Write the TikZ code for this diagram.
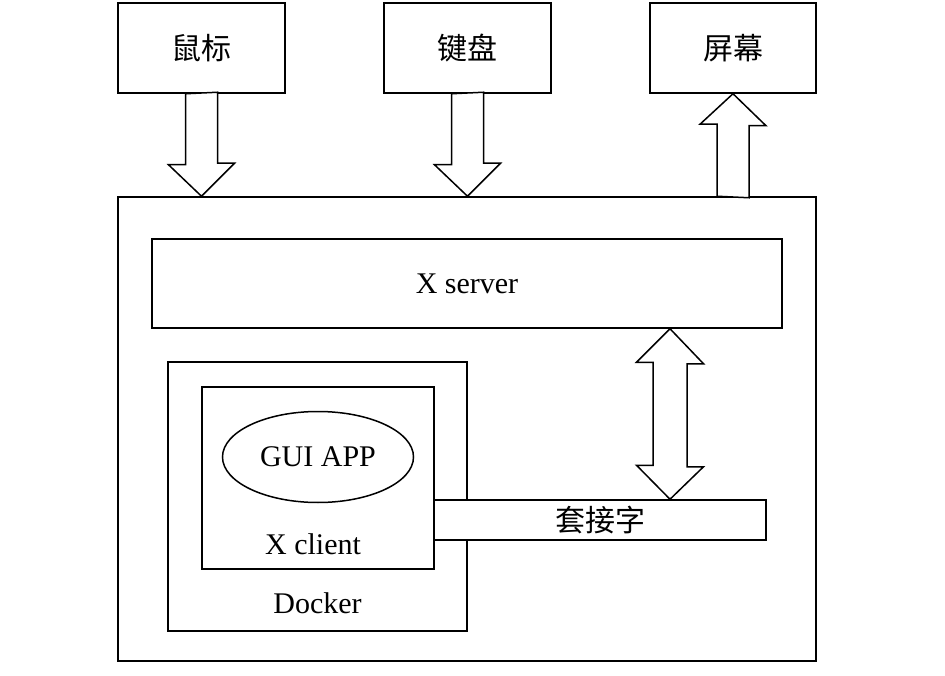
\documentclass[tikz,border=0pt]{standalone}
\usepackage{fontspec}
\setmainfont{Liberation Serif}
\newfontfamily\cjk{Noto Sans CJK SC}
\usetikzlibrary{positioning, calc, shapes.geometric}

\begin{document}
\begin{tikzpicture}[x=1pt, y=-1pt, line width=1.5pt,
    every node/.style={font=\fontsize{30}{36}\selectfont, inner sep=0pt},
    box/.style={draw, rectangle, fill=white},
    fat/.style={draw, fill=white, line join=miter}]
    \useasboundingbox (0,0) rectangle (945,676);

    % outer host frame and devices
    \node[box, minimum width=698, minimum height=464] (host) at (467,429) {};
    \node[box, minimum width=167, minimum height=90] (mouse) at (201.5,48) {\cjk 鼠标};
    \node[box, minimum width=167, minimum height=90] (keyb) at (467.5,48) {\cjk 键盘};
    \node[box, minimum width=166, minimum height=90] (screen) at (733,48) {\cjk 屏幕};

    \node[box, minimum width=630, minimum height=89] (xserver) at (467,283.5) {X server};

    % docker side
    \node[box, minimum width=299, minimum height=269] (docker) at (317.5,496.5) {};
    \node (dockerlbl) at ($(docker.south)+(0,-29)$) {Docker};
    \node[box, minimum width=232, minimum height=182] (xclient) at (318,478) {};
    \node (xclientlbl) at ($(xclient.south)+(-5,-26)$) {X client};
    \node[draw, ellipse, minimum width=191, minimum height=91] (gui) at (318,457) {GUI APP};
    \node[box, minimum width=332, minimum height=40] (socket) at (600,520) {\cjk 套接字};

    % fat arrows
    \draw[fat] ($(mouse.south)+(-16,0)$) -- ++(0,71) -- ++(-17,0)
        -- (mouse.south |- host.north) -- ++(33,-33) -- ++(-17,0) -- ++(0,-71) -- cycle;
    \draw[fat] ($(keyb.south)+(-16,0)$) -- ++(0,71) -- ++(-17,0)
        -- (keyb.south |- host.north) -- ++(33,-33) -- ++(-17,0) -- ++(0,-71) -- cycle;
    \draw[fat] ($(screen.south |- host.north)+(-16,0)$) -- ++(0,-72) -- ++(-17,0)
        -- (screen.south) -- ++(33,32) -- ++(-17,0) -- ++(0,72) -- cycle;

    \coordinate (dtop) at ($(xserver.south)+(203,0)$);
    \coordinate (dbot) at (dtop |- socket.north);
    \draw[fat] (dtop) -- ++(33.5,35) -- ++(-16.5,0) -- ++(0,103) -- ++(16.5,0)
        -- (dbot) -- ++(-33.5,-34) -- ++(16.5,0) -- ++(0,-103) -- ++(-16.5,0) -- cycle;
\end{tikzpicture}
\end{document}
